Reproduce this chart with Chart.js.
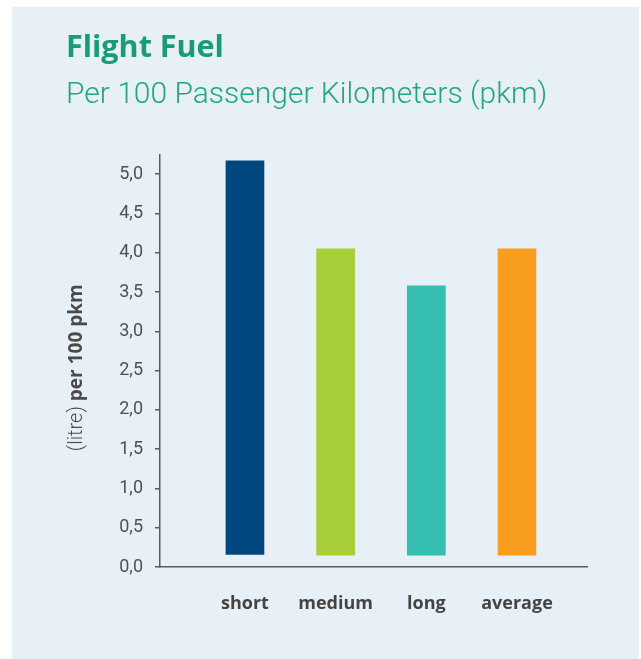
<!DOCTYPE html>
<html>
<head>
<meta charset="utf-8">
<script src="https://cdn.jsdelivr.net/npm/chart.js@4/dist/chart.umd.min.js"></script>
<style>
  html, body { margin: 0; padding: 0; background: #ffffff; width: 641px; height: 659px; overflow: hidden; }
  #panel { position: absolute; left: 12px; top: 7px; width: 627px; height: 652px; background: #e8f0f7; }
  canvas { position: absolute; left: 0; top: 0; }
</style>
</head>
<body>
<div id="panel"><canvas id="c" width="627" height="652"></canvas></div>
<script>
const categories = ["short", "medium", "long", "average"];
const fuelValues = [5.17, 4.05, 3.58, 4.05];
const barBases = [0.16, 0.15, 0.15, 0.15];
const barColors = ["#00467f", "#a6ce39", "#35bdb0", "#f89d1d"];
const titleText = "Flight Fuel";
const subtitleText = "Per 100 Passenger Kilometers (pkm)";
const yTitleLight = "(litre)";
const yTitleBold = "per 100 pkm";

const yTitlePlugin = {
  id: 'yTitle',
  afterDraw(chart) {
    const ctx = chart.ctx;
    const ys = chart.scales.y;
    const cy = (ys.top + ys.bottom) / 2 + 7;
    const cx = 65;
    ctx.save();
    ctx.translate(cx, cy);
    ctx.rotate(-Math.PI / 2);
    ctx.textBaseline = 'middle';
    ctx.fillStyle = '#4a4a4a';
    const fLight = '300 20px Roboto';
    const fBold = 'bold 19px "Open Sans"';
    ctx.font = fLight;
    const w1 = ctx.measureText(yTitleLight + ' ').width;
    ctx.font = fBold;
    const w2 = ctx.measureText(yTitleBold).width;
    let x = -(w1 + w2) / 2;
    ctx.textAlign = 'left';
    ctx.font = fLight;
    ctx.fillText(yTitleLight + ' ', x, 0);
    ctx.font = fBold;
    ctx.fillText(yTitleBold, x + w1, 0);
    ctx.restore();
  }
};

new Chart(document.getElementById('c'), {
  type: 'bar',
  data: {
    datasets: [{
      data: fuelValues.map((v, i) => ({ x: i, y: [barBases[i], v] })),
      backgroundColor: barColors,
      borderWidth: 0,
      barThickness: 38
    }]
  },
  options: {
    responsive: false,
    animation: false,
    events: [],
    layout: { padding: { left: 54, right: 52, top: 0, bottom: 0 } },
    plugins: {
      legend: { display: false },
      tooltip: { enabled: false },
      title: {
        display: true,
        text: titleText,
        align: 'start',
        color: '#179c73',
        font: { family: '"Open Sans"', size: 30.5, weight: 'bold', lineHeight: 1.2 },
        padding: { top: 23, bottom: 0 }
      },
      subtitle: {
        display: true,
        text: subtitleText,
        align: 'start',
        color: '#21a67f',
        font: { family: 'Roboto', size: 30, weight: '300', lineHeight: 1.2 },
        padding: { top: 11, bottom: 41 }
      }
    },
    scales: {
      x: {
        type: 'linear',
        min: -0.937,
        max: 3.772,
        offset: false,
        afterBuildTicks(scale) { scale.ticks = categories.map((_, i) => ({ value: i })); },
        afterFit(scale) { scale.height = 92; },
        ticks: {
          autoSkip: false,
          maxRotation: 0,
          padding: 26,
          color: '#444444',
          font: { family: '"Open Sans"', size: 18, weight: 'bold' },
          callback: (v) => categories[v]
        },
        grid: { display: false, drawTicks: false },
        border: { display: true, color: '#5a5a5a', width: 1.5 }
      },
      y: {
        min: 0,
        max: 5.25,
        afterFit(scale) { scale.width = 94; },
        ticks: {
          stepSize: 0.5,
          includeBounds: false,
          autoSkip: false,
          padding: 12,
          color: '#505050',
          font: { family: 'Roboto', size: 18, weight: '400' },
          callback: (v) => v.toFixed(1).replace('.', ',')
        },
        grid: { display: true, drawOnChartArea: false, drawTicks: true, tickLength: 5, color: '#5a5a5a', lineWidth: 1.5 },
        border: { display: true, color: '#5a5a5a', width: 1.5 }
      }
    }
  },
  plugins: [yTitlePlugin]
});
</script>
</body>
</html>
